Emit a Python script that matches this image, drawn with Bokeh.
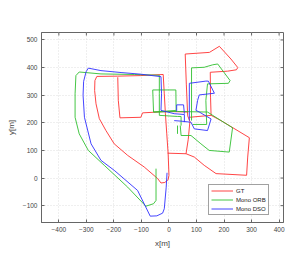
import math
from bokeh.plotting import figure
from bokeh.models import Range1d, FixedTicker, Legend, LegendItem
from bokeh.embed import file_html
from bokeh.resources import INLINE

# Ground truth (GT) trajectory pieces [m]
gt_x = [
    [-21, -102, -186, -262, -269, -270, -265, -253, -229, -199, -150, -90, -41, -29, -15, -3, 0, -3, -8, -13, -17, -21],
    [-186, -184, -178, -102, -96, -5, 68],
    [59, 63, 68, 76, 70, 62, -5],
    [59, 147, 183, 225, 250, 245, 213, 150, 151, 153, 74],
    [153, 189, 292, 286, 282, 171, 128, 92, 62],
]
gt_y = [
    [375, 371, 369, 368, 353, 317, 269, 215, 172, 124, 82, 40, -2, -18, -16, -6, 10, 88, 160, 233, 305, 375],
    [365, 281, 218, 220, 236, 241, 239],
    [449, 340, 225, 205, 140, 88, 90],
    [449, 455, 477, 431, 400, 392, 387, 383, 293, 227, 220],
    [227, 208, 146, 76, 10, 16, 46, 76, 88],
]

# Mono ORB trajectory pieces [m]
orb_x = [
    [-47, -47, -56, -84, -150, -235, -293, -326, -341, -341, -338, -326, -247, -126, -35, -35, -35, 31],
    [-59, 25, 26, -56, -59],
    [82, 82, 128, 159, 177, 222, 216, 140, 134, 137, 86],
    [140, 189, 231, 219, 146, 116, 80, 44, 41],
    [31, 31],
    [-56, 31, 80, 140],
    [31, 44, 44],
]
orb_y = [
    [34, -81, -93, -102, -33, 46, 100, 160, 220, 305, 371, 384, 377, 375, 372, 305, 227, 223],
    [319, 319, 245, 239, 319],
    [208, 399, 401, 410, 413, 353, 343, 341, 281, 194, 194],
    [239, 208, 182, 94, 100, 124, 154, 154, 190],
    [190, 160],
    [239, 241, 240, 239],
    [223, 223, 190],
]

# Mono DSO trajectory pieces [m]
dso_x = [
    [-7, -10, -17, -23, -44, -68, -114, -199, -247, -283, -307, -312, -310, -301, -293, -247, -174, -102, -29, -27, -29, 19, 56, 56],
    [28, 28, 53, 56],
    [74, 74, 134, 143, 165, 110, 104, 98, 110, 153, 140, 92, 80, 44, 19],
]
dso_y = [
    [19, -33, -111, -127, -137, -138, -45, 28, 64, 124, 220, 300, 350, 385, 398, 389, 382, 376, 367, 305, 245, 233, 230, 202],
    [241, 265, 265, 233],
    [208, 343, 351, 351, 307, 301, 281, 245, 239, 214, 172, 178, 202, 206, 208],
]

x_ticks = [-400, -300, -200, -100, 0, 100, 200, 300, 400]
y_ticks = [-100, 0, 100, 200, 300, 400, 500]
series_labels = ["GT", "Mono ORB", "Mono DSO"]

x_lo, x_hi = -463, 416
y_lo, y_hi = -161, 527

p = figure(width=289, height=257, output_backend="svg", toolbar_location=None,
           x_range=Range1d(x_lo, x_hi), y_range=Range1d(y_lo, y_hi),
           min_border_left=41, min_border_right=6, min_border_top=32, min_border_bottom=35)
p.background_fill_color = "white"
p.border_fill_color = "white"
p.outline_line_color = "#666666"

axis_col = "#666666"
text_col = "#444444"
for ax, ticks in ((p.xaxis[0], x_ticks), (p.yaxis[0], y_ticks)):
    ax.ticker = FixedTicker(ticks=ticks)
    ax.major_tick_in = 3
    ax.major_tick_out = 0
    ax.minor_tick_line_color = None
    ax.axis_line_color = axis_col
    ax.major_tick_line_color = axis_col
    ax.major_label_text_font = "Liberation Sans"
    ax.major_label_text_font_size = "6.5px"
    ax.major_label_text_color = text_col
    ax.major_label_standoff = 4
    ax.axis_label_text_font = "Liberation Sans"
    ax.axis_label_text_font_size = "8px"
    ax.axis_label_text_font_style = "normal"
    ax.axis_label_text_color = text_col
    ax.axis_label_standoff = 4
p.xaxis.axis_label = "x[m]"
p.yaxis.axis_label = "y[m]"

p.xgrid.ticker = FixedTicker(ticks=x_ticks)
p.ygrid.ticker = FixedTicker(ticks=y_ticks)
for g in (p.xgrid[0], p.ygrid[0]):
    g.grid_line_color = "#d5d5d5"
    g.grid_line_dash = "1 2"
    g.grid_line_width = 0.8

# mirrored inward ticks on the top and right frame edges
p.ray(x=x_ticks, y=[y_hi] * len(x_ticks), length=3, length_units="screen",
      angle=-math.pi / 2, line_color=axis_col, line_width=1)
p.ray(x=[x_hi] * len(y_ticks), y=y_ticks, length=3, length_units="screen",
      angle=math.pi, line_color=axis_col, line_width=1)

r_gt = p.multi_line(gt_x, gt_y, line_color="#ff3030", line_width=0.9)
r_orb = p.multi_line(orb_x, orb_y, line_color="#30c030", line_width=0.9)
r_dso = p.multi_line(dso_x, dso_y, line_color="#3030ff", line_width=0.9)

legend = Legend(items=[LegendItem(label=series_labels[0], renderers=[r_gt]),
                       LegendItem(label=series_labels[1], renderers=[r_orb]),
                       LegendItem(label=series_labels[2], renderers=[r_dso])],
                location=(167, 7))
legend.label_text_font = "Liberation Sans"
legend.label_text_font_size = "6px"
legend.label_text_line_height = 1.0
legend.label_text_color = "#222222"
legend.glyph_width = 22
legend.glyph_height = 7
legend.label_height = 7
legend.label_standoff = 3
legend.spacing = 2
legend.padding = 2
legend.margin = 0
legend.border_line_color = "#444444"
legend.border_line_width = 0.8
legend.background_fill_color = "white"
legend.background_fill_alpha = 1
p.add_layout(legend)

open("out.html", "w").write(file_html(p, INLINE))
